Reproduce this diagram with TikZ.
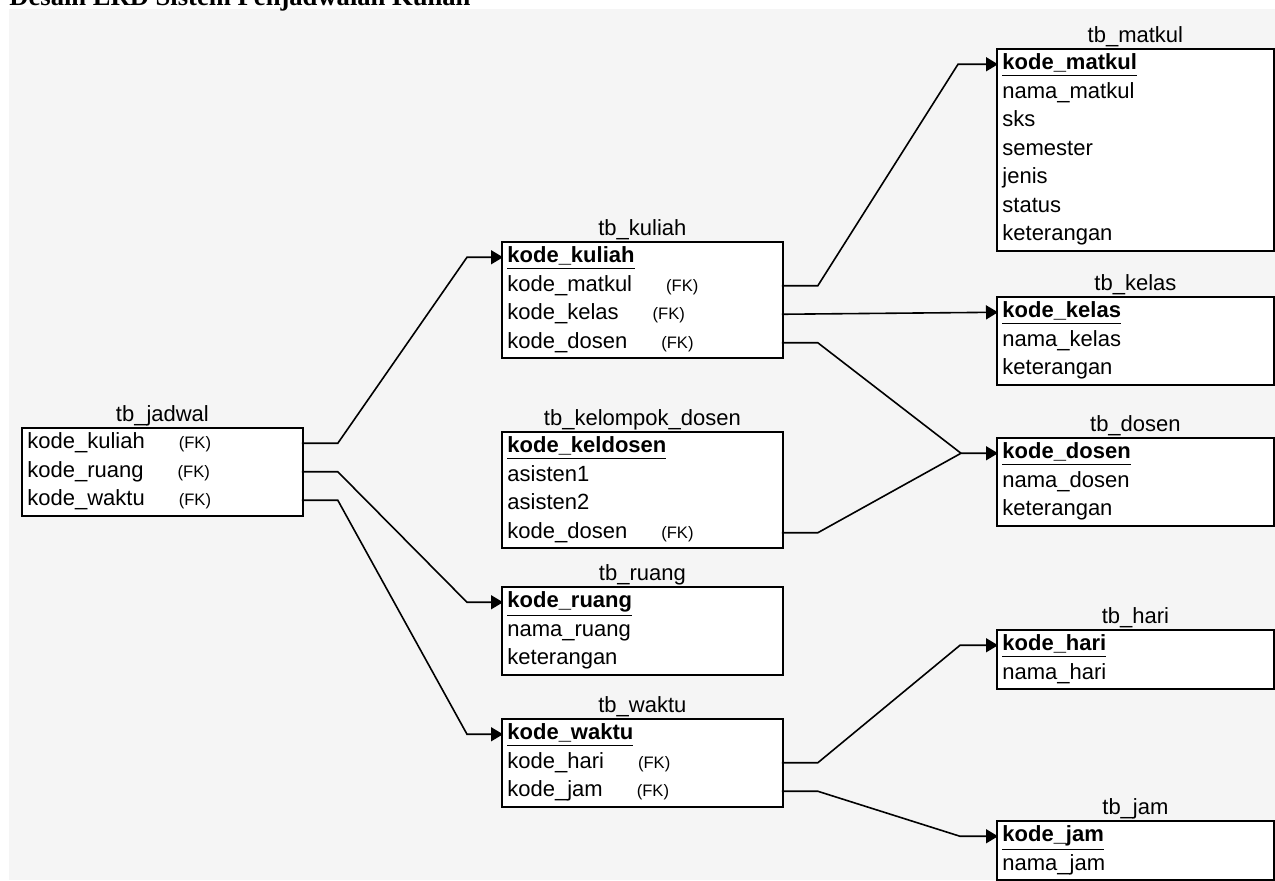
\documentclass[tikz,border=0pt]{standalone}
\usepackage{fontspec}
\setmainfont{Liberation Sans}
\newfontfamily\titleserif{Liberation Serif}
\usepackage{tikz}
\usetikzlibrary{positioning,fit,arrows.meta,backgrounds}
\definecolor{canvas}{HTML}{F5F5F5}
\newcommand{\fkmark}{\hspace{17pt}{\fontsize{8.3}{10}\selectfont(FK)}}

\begin{document}
\begin{tikzpicture}[x=0.5pt, y=-0.5pt,
    col/.style={font=\fontsize{11}{13}\selectfont, text width=135pt, align=left, minimum height=13.85pt, text height=8.2pt, text depth=2.6pt, inner xsep=2pt, inner ysep=0pt, anchor=north west},
    colr/.style={col, text width=133pt},
    tbl/.style={draw, fill=white, line width=1pt, inner sep=0.5pt},
    tblname/.style={font=\fontsize{11}{13}\selectfont, inner sep=0pt},
    rel/.style={line width=0.8pt},
    relarrow/.style={rel, -{Triangle[length=6pt,width=7pt]}}]
    \begin{scope}[on background layer]
        \fill[white] (0,0) rectangle (1275,880);
        \fill[canvas] (9,9) rectangle (1275,880);
    \end{scope}
    \useasboundingbox (0,0) rectangle (1275,880);
    \node[anchor=base west, inner sep=0pt, font=\titleserif\bfseries\fontsize{13.3}{16}\selectfont] (judul) at (9,5) {Desain ERD Sistem Penjadwalan Kuliah};

    \node[col] (jad1) at (23,429) {kode\_kuliah\fkmark};
    \node[col, below=0pt of jad1] (jad2) {kode\_ruang\fkmark};
    \node[col, below=0pt of jad2] (jad3) {kode\_waktu\fkmark};
    \begin{scope}[on background layer]
        \node[tbl, fit=(jad1)(jad3)] (jad) {};
    \end{scope}
    \node[tblname, above=0.5pt of jad] (jad-t) {tb\_jadwal};

    \node[col] (kul1) at (503,243) {\textbf{\underline{kode\_kuliah}}};
    \node[col, below=0pt of kul1] (kul2) {kode\_matkul\fkmark};
    \node[col, below=0pt of kul2] (kul3) {kode\_kelas\fkmark};
    \node[col, below=0pt of kul3] (kul4) {kode\_dosen\fkmark};
    \begin{scope}[on background layer]
        \node[tbl, fit=(kul1)(kul4)] (kul) {};
    \end{scope}
    \node[tblname, above=0.5pt of kul] (kul-t) {tb\_kuliah};

    \node[col] (kel1) at (503,433) {\textbf{\underline{kode\_keldosen}}};
    \node[col, below=0pt of kel1] (kel2) {asisten1};
    \node[col, below=0pt of kel2] (kel3) {asisten2};
    \node[col, below=0pt of kel3] (kel4) {kode\_dosen\fkmark};
    \begin{scope}[on background layer]
        \node[tbl, fit=(kel1)(kel4)] (kel) {};
    \end{scope}
    \node[tblname, above=0.5pt of kel] (kel-t) {tb\_kelompok\_dosen};

    \node[col] (rua1) at (503,588) {\textbf{\underline{kode\_ruang}}};
    \node[col, below=0pt of rua1] (rua2) {nama\_ruang};
    \node[col, below=0pt of rua2] (rua3) {keterangan};
    \begin{scope}[on background layer]
        \node[tbl, fit=(rua1)(rua3)] (rua) {};
    \end{scope}
    \node[tblname, above=0.5pt of rua] (rua-t) {tb\_ruang};

    \node[col] (wak1) at (503,720) {\textbf{\underline{kode\_waktu}}};
    \node[col, below=0pt of wak1] (wak2) {kode\_hari\fkmark};
    \node[col, below=0pt of wak2] (wak3) {kode\_jam\fkmark};
    \begin{scope}[on background layer]
        \node[tbl, fit=(wak1)(wak3)] (wak) {};
    \end{scope}
    \node[tblname, above=0.5pt of wak] (wak-t) {tb\_waktu};

    \node[colr] (mat1) at (998,50) {\textbf{\underline{kode\_matkul}}};
    \node[colr, below=0pt of mat1] (mat2) {nama\_matkul};
    \node[colr, below=0pt of mat2] (mat3) {sks};
    \node[colr, below=0pt of mat3] (mat4) {semester};
    \node[colr, below=0pt of mat4] (mat5) {jenis};
    \node[colr, below=0pt of mat5] (mat6) {status};
    \node[colr, below=0pt of mat6] (mat7) {keterangan};
    \begin{scope}[on background layer]
        \node[tbl, fit=(mat1)(mat7)] (mat) {};
    \end{scope}
    \node[tblname, above=0.5pt of mat] (mat-t) {tb\_matkul};

    \node[colr] (kls1) at (998,298) {\textbf{\underline{kode\_kelas}}};
    \node[colr, below=0pt of kls1] (kls2) {nama\_kelas};
    \node[colr, below=0pt of kls2] (kls3) {keterangan};
    \begin{scope}[on background layer]
        \node[tbl, fit=(kls1)(kls3)] (kls) {};
    \end{scope}
    \node[tblname, above=0.5pt of kls] (kls-t) {tb\_kelas};

    \node[colr] (dos1) at (998,439) {\textbf{\underline{kode\_dosen}}};
    \node[colr, below=0pt of dos1] (dos2) {nama\_dosen};
    \node[colr, below=0pt of dos2] (dos3) {keterangan};
    \begin{scope}[on background layer]
        \node[tbl, fit=(dos1)(dos3)] (dos) {};
    \end{scope}
    \node[tblname, above=0.5pt of dos] (dos-t) {tb\_dosen};

    \node[colr] (har1) at (998,631) {\textbf{\underline{kode\_hari}}};
    \node[colr, below=0pt of har1] (har2) {nama\_hari};
    \begin{scope}[on background layer]
        \node[tbl, fit=(har1)(har2)] (har) {};
    \end{scope}
    \node[tblname, above=0.5pt of har] (har-t) {tb\_hari};

    \node[colr] (jam1) at (998,822) {\textbf{\underline{kode\_jam}}};
    \node[colr, below=0pt of jam1] (jam2) {nama\_jam};
    \begin{scope}[on background layer]
        \node[tbl, fit=(jam1)(jam2)] (jam) {};
    \end{scope}
    \node[tblname, above=0.5pt of jam] (jam-t) {tb\_jam};

    \draw[relarrow] (jad1.east) -- ++(36,0) -- ([xshift=-18pt]kul1.west) -- (kul1.west);
    \draw[relarrow] (jad2.east) -- ++(36,0) -- ([xshift=-18pt]rua1.west) -- (rua1.west);
    \draw[relarrow] (jad3.east) -- ++(36,0) -- ([xshift=-18pt]wak1.west) -- (wak1.west);
    \draw[relarrow] (kul2.east) -- ++(36,0) -- ([xshift=-20pt]mat1.west) -- (mat1.west);
    \draw[relarrow] (kul3.east) -- (kls1.west);
    \coordinate[left=18.5pt of dos1.west] (dosj);
    \draw[rel] (kul4.east) -- ++(36,0) -- (dosj);
    \draw[relarrow] (kel4.east) -- ++(36,0) -- (dosj) -- (dos1.west);
    \draw[relarrow] (wak2.east) -- ++(36,0) -- ([xshift=-19pt]har1.west) -- (har1.west);
    \draw[relarrow] (wak3.east) -- ++(36,0) -- ([xshift=-19pt]jam1.west) -- (jam1.west);
\end{tikzpicture}
\end{document}
